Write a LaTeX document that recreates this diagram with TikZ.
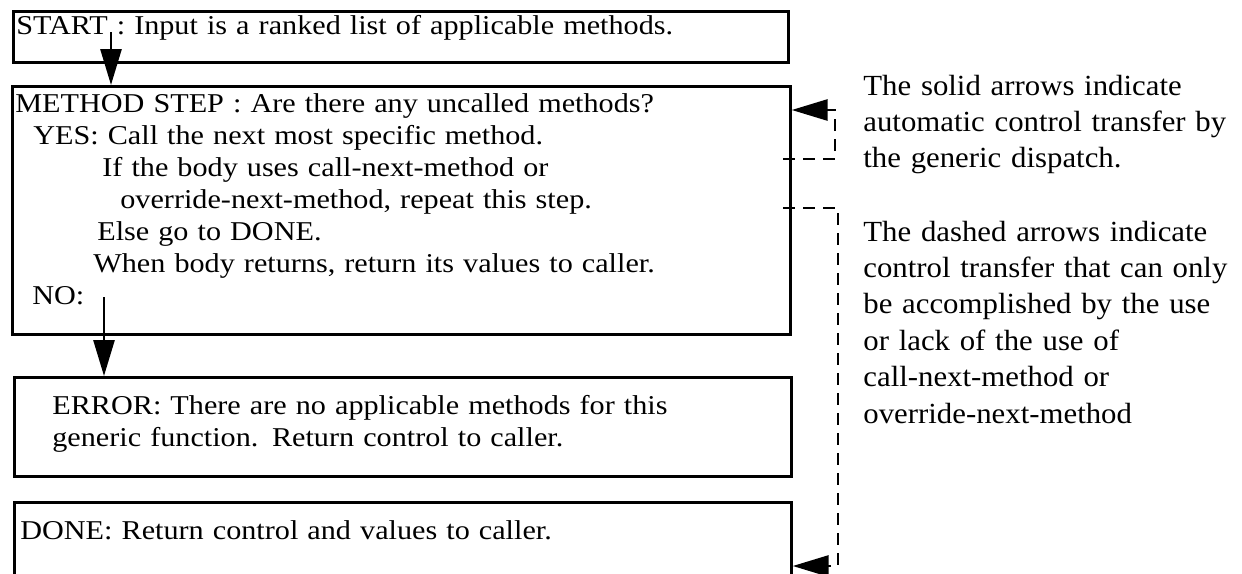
\documentclass[tikz,border=0pt]{standalone}
\usepackage{fontspec}
\setmainfont[FakeStretch=1.11]{Liberation Serif}
\newfontfamily\notefont[FakeStretch=1.055]{Liberation Serif}
\usetikzlibrary{arrows.meta}

\tikzstyle{box} = [rectangle, draw, line width=1.35pt, inner sep=0pt, inner xsep=1.5pt, align=left, anchor=north west, font=\fontsize{13.6}{16}\selectfont]
\tikzstyle{arrow} = [line width=1.35pt, -{Triangle[length=18pt,width=10.5pt]}]
\tikzstyle{dasharrow} = [arrow, line width=1.45pt, dash pattern=on 6pt off 4pt]
\tikzstyle{note} = [anchor=base west, align=left, inner sep=0pt, text width=200pt, font=\notefont\fontsize{14.6}{18.2}\selectfont]

\begin{document}
\begin{tikzpicture}[x=0.5pt,y=-0.5pt]
            \useasboundingbox (0,0) rectangle (1242,573);

            \node [box, text width=384.5pt, text height=11.5pt, text depth=14pt] at (12,10) (start) {START : Input is a ranked list of applicable methods.};
            \node [box, text width=386pt, text height=13pt, text depth=111pt] at (11,85) (method) {METHOD STEP : Are there any uncalled methods?\\
              \hspace*{9pt}YES: Call the next most specific method.\\
              \hspace*{43.5pt}If the body uses call-next-method or\\
              \hspace*{52.5pt}override-next-method, repeat this step.\\
              \hspace*{41pt}Else go to DONE.\\
              \hspace*{39pt}When body returns, return its values to caller.\\
              \hspace*{8.5pt}NO:};
            \node [box, text width=385.5pt, text height=18.5pt, text depth=31pt] at (13,376) (error) {\hspace*{17.5pt}ERROR: There are no applicable methods for this\\
              \hspace*{17.5pt}generic function. Return control to caller.};
            \node [box, text width=385.5pt, text height=18.5pt, text depth=40pt] at (13,501) (done) {\hspace*{1.5pt}DONE: Return control and values to caller.};

            \node [note] at (863,95) (solid) {The solid arrows indicate\\automatic control transfer by\\the generic dispatch.};
            \node [note] at (863,241) (dashed) {The dashed arrows indicate\\control transfer that can only\\be accomplished by the use\\or lack of the use of\\call-next-method or\\override-next-method};

            \coordinate (s1) at (111,32);
            \coordinate (no) at (104,297);
            \coordinate (l1) at (783,159);
            \coordinate (r1) at (835,110);
            \coordinate (l2) at (783,208);
            \coordinate (r2) at (838,566);

            \draw [arrow] (s1) -- (s1 |- method.north);
            \draw [arrow] (no) -- (no |- error.north);
            \draw [dasharrow] (l1) -| (r1) -- (r1 -| method.east);
            \draw [dasharrow] (l2) -| (r2) -- (r2 -| done.east);
\end{tikzpicture}
\end{document}
